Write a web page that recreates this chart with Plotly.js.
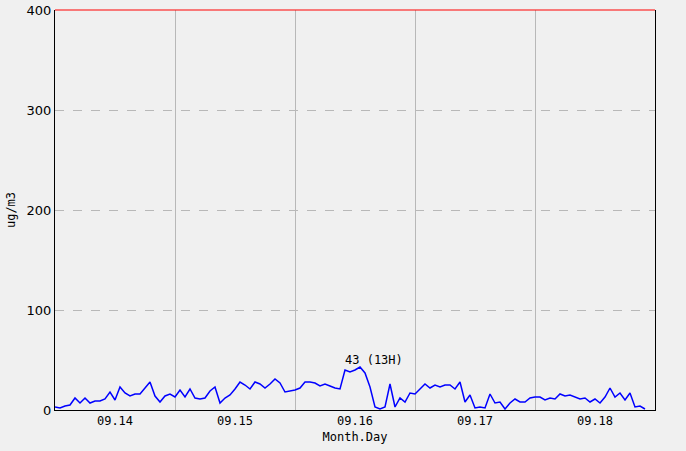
<!DOCTYPE html>
<html>
<head>
<meta charset="utf-8">
<script src="https://cdn.plot.ly/plotly-3.0.1.min.js"></script>
<style>html,body{margin:0;padding:0;background:#f0f0f0;}#chart{width:686px;height:451px;}</style>
</head>
<body>
<div id="chart"></div>
<script>
// Day labels (each day = 24 hourly points, first point = 09.14 00H)
var dayLabels = ['09.14', '09.15', '09.16', '09.17', '09.18'];
var hoursPerDay = 24;

// Hourly values, ug/m3
var day1 = [3, 2, 4, 5, 12, 7, 12, 7, 9, 9, 11, 18, 10, 23, 17, 14, 16, 16, 22, 28, 14, 8, 14, 16];
var day2 = [13, 20, 13, 21, 12, 11, 12, 19, 23, 7, 12, 15, 21, 28, 25, 21, 28, 26, 22, 26, 31, 27, 18, 19];
var day3 = [20, 22, 28, 28, 27, 24, 26, 24, 22, 21, 40, 38, 40, 43, 37, 23, 3, 1, 3, 26, 3, 12, 8, 17];
var day4 = [16, 21, 26, 22, 25, 23, 25, 25, 21, 28, 8, 15, 2, 3, 2, 16, 7, 8, 1, 7, 11, 8, 8, 12];
var day5 = [13, 13, 10, 12, 11, 16, 14, 15, 13, 11, 12, 8, 11, 7, 13, 22, 13, 17, 10, 17, 3, 4, 1];

var values = day1.concat(day2, day3, day4, day5);
var xs = values.map(function (v, i) { return i; });

var tickVals = dayLabels.map(function (d, i) { return i * hoursPerDay + hoursPerDay / 2; });
var totalHours = dayLabels.length * hoursPerDay;

var maxVal = Math.max.apply(null, values);
var maxIdx = values.indexOf(maxVal);
var maxHour = maxIdx % hoursPerDay;

var trace = {
  x: xs,
  y: values,
  type: 'scatter',
  mode: 'lines',
  line: { color: '#0000ff', width: 1.5 },
  hoverinfo: 'skip'
};

var monoFont = 'DejaVu Sans Mono, monospace';

var layout = {
  width: 686,
  height: 451,
  margin: { l: 55, r: 31, t: 10, b: 41 },
  paper_bgcolor: '#f0f0f0',
  plot_bgcolor: '#f0f0f0',
  showlegend: false,
  font: { family: monoFont, size: 12, color: '#000' },
  xaxis: {
    range: [0, totalHours],
    tickmode: 'array',
    tickvals: tickVals,
    ticktext: dayLabels,
    ticks: '',
    showgrid: false,
    zeroline: false,
    showline: true,
    linecolor: '#000',
    linewidth: 1,
    tickfont: { family: monoFont, size: 12, color: '#000' },
    minor: { tick0: 0, dtick: hoursPerDay, showgrid: true, gridcolor: '#b8b8b8', gridwidth: 1, ticks: '' },
    title: { text: 'Month.Day', font: { family: monoFont, size: 12, color: '#000' }, standoff: 5 }
  },
  yaxis: {
    range: [0, 400],
    dtick: 100,
    tick0: 0,
    ticks: '',
    showgrid: true,
    gridcolor: '#b8b8b8',
    griddash: 'dash',
    gridwidth: 1,
    zeroline: false,
    showline: true,
    mirror: true,
    linecolor: '#000',
    linewidth: 1,
    tickfont: { family: 'DejaVu Sans, sans-serif', size: 13, color: '#000' },
    title: { text: 'ug/m3', font: { family: monoFont, size: 12, color: '#000' }, standoff: 8 }
  },
  shapes: [{
    type: 'line', xref: 'paper', yref: 'paper', x0: 0, x1: 1, y0: 1, y1: 1,
    line: { color: '#ff0000', width: 1 }
  }],
  annotations: [{
    x: maxIdx,
    y: maxVal,
    xref: 'x',
    yref: 'y',
    text: maxVal + ' (' + maxHour + 'H)',
    showarrow: false,
    xanchor: 'left',
    yanchor: 'bottom',
    xshift: -17,
    yshift: -2,
    font: { family: monoFont, size: 12, color: '#000' }
  }]
};

Plotly.newPlot('chart', [trace], layout, { displayModeBar: false, staticPlot: true });
</script>
</body>
</html>
